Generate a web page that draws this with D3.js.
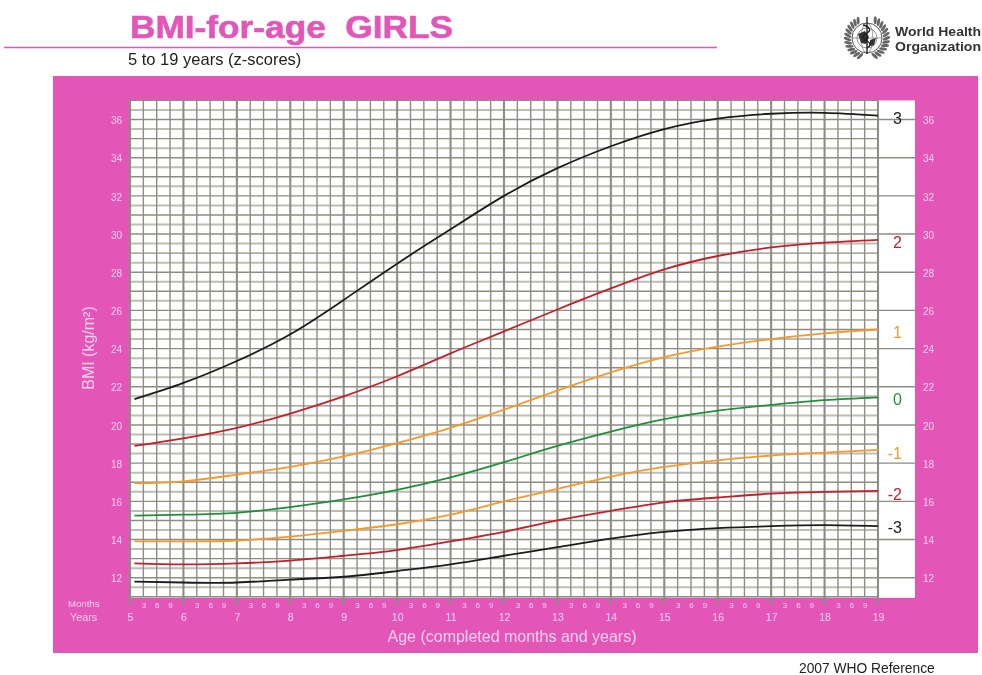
<!DOCTYPE html>
<html>
<head>
<meta charset="utf-8">
<script src="https://cdn.jsdelivr.net/npm/d3@7"></script>
<style>
  html, body { margin: 0; padding: 0; background: #fff; }
  svg { display: block; filter: blur(0.4px); }
  text { font-family: "Liberation Sans", Arial, sans-serif; }
</style>
</head>
<body>
<svg id="chart" width="982" height="675"></svg>
<script>
// ages read at each whole year, first point is 5 years 1 month
const ages = [5.083, 6, 7, 8, 9, 10, 11, 12, 13, 14, 15, 16, 17, 18, 19];
const sd3 = [21.35, 22.2, 23.35, 24.75, 26.55, 28.45, 30.25, 32, 33.45, 34.6, 35.5, 36.05, 36.3, 36.35, 36.2];
const sd2 = [18.9, 19.3, 19.85, 20.6, 21.5, 22.55, 23.75, 24.9, 26.05, 27.15, 28.15, 28.85, 29.3, 29.55, 29.7];
const sd1 = [16.95, 17.05, 17.4, 17.8, 18.35, 19.05, 19.85, 20.8, 21.8, 22.75, 23.55, 24.1, 24.5, 24.8, 25];
const sd0 = [15.25, 15.3, 15.4, 15.7, 16.1, 16.6, 17.25, 18.05, 18.9, 19.65, 20.3, 20.75, 21.05, 21.3, 21.45];
const sdM1 = [13.9, 13.9, 13.95, 14.15, 14.45, 14.8, 15.3, 16, 16.65, 17.3, 17.8, 18.15, 18.4, 18.55, 18.7];
const sdM2 = [12.75, 12.7, 12.75, 12.9, 13.15, 13.45, 13.9, 14.4, 15, 15.5, 15.95, 16.2, 16.4, 16.5, 16.55];
const sdM3 = [11.8, 11.75, 11.75, 11.9, 12.05, 12.35, 12.7, 13.15, 13.6, 14.05, 14.4, 14.6, 14.7, 14.75, 14.7];

const curveNames = ['3', '2', '1', '0', '-1', '-2', '-3'];
const curveValues = [sd3, sd2, sd1, sd0, sdM1, sdM2, sdM3];
const curveColors = ['#1c1c1c', '#c4202c', '#f7982a', '#1f8f3a', '#f7982a', '#c4202c', '#1c1c1c'];
const labelNudge = [3, 3, 3, 2, 4, 4, 1];

const pink = '#e356b8';
const pale = '#f9d2ec';
const gridDark = '#8d8d83';
const gridLight = '#bdbdb4';

const svg = d3.select('#chart');

const x = d3.scaleLinear().domain([5, 19]).range([130, 878]);
const y = d3.scaleLinear().domain([11, 37]).range([596.8, 100.4]);

// header
svg.append('text').attr('x', 130).attr('y', 38)
  .attr('font-size', 32).attr('font-weight', 'bold').attr('fill', pink)
  .attr('stroke', pink).attr('stroke-width', 0.6)
  .attr('textLength', 323).attr('lengthAdjust', 'spacingAndGlyphs')
  .style('white-space', 'pre')
  .text('BMI-for-age  GIRLS');
svg.append('line').attr('x1', 4).attr('x2', 717).attr('y1', 47.5).attr('y2', 47.5)
  .attr('stroke', pink).attr('stroke-width', 1.6);
svg.append('text').attr('x', 128).attr('y', 65).attr('font-size', 16.5).attr('fill', '#222')
  .text('5 to 19 years (z-scores)');
svg.append('text').attr('x', 799).attr('y', 673).attr('font-size', 13.8).attr('fill', '#222')
  .text('2007 WHO Reference');

// panel
svg.append('rect').attr('x', 53).attr('y', 76).attr('width', 925).attr('height', 577).attr('fill', pink);
svg.append('rect').attr('x', x(5)).attr('y', y(37)).attr('width', 785).attr('height', y(11) - y(37) + 1).attr('fill', '#fff');

// horizontal grid, half units are the pale ones
const hVals = d3.range(11, 37.5, 0.5);
svg.append('g').selectAll('line').data(hVals).join('line')
  .attr('x1', x(5))
  .attr('x2', d => d % 2 === 0 ? 915 : x(19))
  .attr('y1', d => y(d)).attr('y2', d => y(d))
  .attr('stroke', d => d % 1 === 0 ? gridDark : gridLight)
  .attr('stroke-width', d => d % 1 === 0 ? 1.4 : 2);

// vertical grid, one line per 3 months
const vVals = d3.range(0, 14 * 4 + 1).map(d => 5 + d / 4);
svg.append('g').selectAll('line').data(vVals).join('line')
  .attr('x1', d => x(d)).attr('x2', d => x(d))
  .attr('y1', y(37))
  .attr('y2', d => d % 1 === 0 ? 605 : y(11))
  .attr('stroke', gridDark)
  .attr('stroke-width', d => d % 1 === 0 ? 2.1 : 1.4);

// axes, only the labels are kept
const evenTicks = d3.range(12, 37, 2);
const leftAxis = svg.append('g').attr('transform', 'translate(122,1)')
  .call(d3.axisLeft(y).tickValues(evenTicks).tickSize(0).tickPadding(0));
const rightAxis = svg.append('g').attr('transform', 'translate(923,1)')
  .call(d3.axisRight(y).tickValues(evenTicks).tickSize(0).tickPadding(0));
const yearAxis = svg.append('g').attr('transform', 'translate(0,613)')
  .call(d3.axisBottom(x).tickValues(d3.range(5, 20)).tickFormat(d3.format('d')).tickSize(0).tickPadding(1));
const monthTicks = vVals.filter(d => d % 1 !== 0);
const monthAxis = svg.append('g').attr('transform', 'translate(0,601)')
  .call(d3.axisBottom(x).tickValues(monthTicks).tickFormat(d => Math.round((d % 1) * 12)).tickSize(0).tickPadding(1));

[leftAxis, rightAxis, yearAxis, monthAxis].forEach(a => {
  a.select('.domain').remove();
  a.selectAll('text').attr('fill', pale).style('font-family', '"Liberation Sans", Arial, sans-serif');
});
leftAxis.selectAll('text').style('font-size', '10px');
rightAxis.selectAll('text').style('font-size', '10px');
yearAxis.selectAll('text').style('font-size', '10.5px');
monthAxis.selectAll('text').style('font-size', '8px');

svg.append('text').attr('x', 68).attr('y', 607).attr('font-size', 9.6).attr('fill', pale).text('Months');
svg.append('text').attr('x', 70).attr('y', 621).attr('font-size', 10.8).attr('fill', pale).text('Years');
svg.append('text').attr('x', 512).attr('y', 642).attr('text-anchor', 'middle')
  .attr('font-size', 16).attr('fill', pale).text('Age (completed months and years)');
svg.append('text').attr('transform', 'translate(94,348) rotate(-90)').attr('text-anchor', 'middle')
  .attr('font-size', 16).attr('fill', pale).text('BMI (kg/m²)');

// z-score curves
const line = d3.line()
  .x((d, i) => x(ages[i]))
  .y(d => y(d))
  .curve(d3.curveNatural);
svg.append('g').selectAll('path').data(curveValues).join('path')
  .attr('d', d => line(d))
  .attr('fill', 'none')
  .attr('stroke', (d, i) => curveColors[i])
  .attr('stroke-width', 1.8);

svg.append('g').selectAll('text').data(curveNames).join('text')
  .attr('x', 902).attr('text-anchor', 'end')
  .attr('y', (d, i) => y(curveValues[i][14]) + 5.5 + labelNudge[i])
  .attr('font-size', 16)
  .attr('fill', (d, i) => curveColors[i])
  .text(d => d);

// WHO emblem, roughly
const logo = svg.append('g').attr('transform', 'translate(867,38)');
const leafAngles = d3.range(-155, 156, 11).filter(a => Math.abs(a) > 15);
logo.selectAll('ellipse').data(leafAngles).join('ellipse')
  .attr('rx', 1.5).attr('ry', 4)
  .attr('fill', '#666')
  .attr('transform', a => `rotate(${a + 180}) translate(0,-19.5) rotate(${a > 0 ? 25 : -25})`);
logo.append('circle').attr('r', 15).attr('fill', '#fff').attr('stroke', '#555').attr('stroke-width', 1);
logo.append('circle').attr('r', 10).attr('fill', 'none').attr('stroke', '#777').attr('stroke-width', 0.8);
logo.append('ellipse').attr('rx', 6).attr('ry', 15).attr('fill', 'none').attr('stroke', '#777').attr('stroke-width', 0.7);
logo.append('line').attr('x1', -15).attr('x2', 15).attr('stroke', '#777').attr('stroke-width', 0.7);
logo.append('path').attr('d', 'M-9,-4 L-2,-7 L2,-1 L-1,6 L-6,5 Z M3,2 L9,0 L7,7 L3,8 Z').attr('fill', '#333');
logo.append('line').attr('y1', -21).attr('y2', 16).attr('stroke', '#222').attr('stroke-width', 1.4);
logo.append('path').attr('d', 'M-4,-13 C4,-11 4,-7 0,-5 C-5,-3 -5,1 0,3 C4,5 4,8 0,10')
  .attr('fill', 'none').attr('stroke', '#222').attr('stroke-width', 1.3);

svg.append('text').attr('x', 895).attr('y', 36)
  .attr('font-size', 13).attr('font-weight', 'bold').attr('fill', '#333')
  .attr('textLength', 86).attr('lengthAdjust', 'spacingAndGlyphs').text('World Health');
svg.append('text').attr('x', 895).attr('y', 51)
  .attr('font-size', 13).attr('font-weight', 'bold').attr('fill', '#333')
  .attr('textLength', 86).attr('lengthAdjust', 'spacingAndGlyphs').text('Organization');
</script>
</body>
</html>
